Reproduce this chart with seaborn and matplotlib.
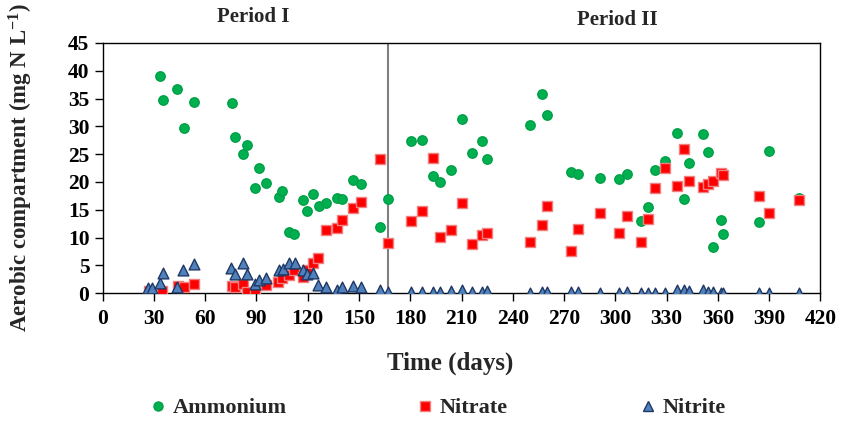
import pandas as pd
import matplotlib
matplotlib.use("Agg")
import matplotlib.pyplot as plt
import seaborn as sns
from matplotlib.lines import Line2D

# ---------------------------
# Data
# ---------------------------
amm_day = [33.3, 35.3, 43.3, 47.3, 53.4, 75.4, 77.4, 82.2, 84.2, 89.2, 91.4, 95.3,
           102.9, 105.2, 109.1, 112.1, 117.1, 119.5, 123.2, 126.3, 130.4, 137.2, 140.3,
           146.4, 151.2, 162.2, 167.2, 180.3, 187.1, 193.0, 197.2, 204.1, 210.1, 216.1,
           222.0, 225.1, 250.1, 257.3, 260.0, 274.0, 278.3, 291.0, 301.9, 306.8, 314.8,
           319.3, 323.0, 329.0, 336.0, 340.1, 343.0, 351.0, 354.0, 357.1, 362.0, 363.0,
           384.0, 390.0, 407.2]
amm_val = [39.0, 34.8, 36.7, 29.7, 34.3, 34.2, 28.0, 25.1, 26.7, 18.9, 22.5, 19.8,
           17.3, 18.3, 11.1, 10.6, 16.8, 14.7, 17.8, 15.7, 16.2, 17.1, 16.9,
           20.4, 19.7, 11.9, 17.0, 27.4, 27.6, 21.0, 20.0, 22.2, 31.4, 25.3,
           27.4, 24.2, 30.3, 35.8, 32.1, 21.8, 21.4, 20.7, 20.6, 21.4, 12.9,
           15.5, 22.1, 23.7, 28.8, 16.9, 23.4, 28.7, 25.4, 8.3, 13.1, 10.6,
           12.8, 25.5, 17.1]

nit_day = [27.0, 35.0, 44.0, 47.5, 53.4, 75.4, 77.4, 82.2, 84.2, 89.2, 95.3, 102.8,
           105.0, 109.1, 111.8, 117.2, 119.5, 123.0, 126.2, 130.4, 137.2, 140.3, 146.4,
           151.2, 162.2, 167.2, 180.3, 187.1, 193.0, 197.2, 204.1, 210.1, 216.1, 222.0,
           225.1, 250.1, 257.3, 260.0, 274.0, 278.3, 291.0, 301.9, 306.8, 315.0, 319.3,
           323.0, 329.0, 336.0, 340.1, 343.0, 351.0, 354.0, 357.1, 362.0, 363.0, 384.0,
           390.0, 407.2]
nit_val = [0.4, 0.4, 1.3, 1.1, 1.7, 1.3, 1.2, 1.6, 0.3, 0.3, 1.5, 2.0,
           2.7, 3.3, 4.1, 3.0, 4.2, 5.5, 6.4, 11.4, 11.8, 13.2, 15.3,
           16.4, 24.2, 9.0, 12.9, 14.7, 24.3, 10.2, 11.4, 16.3, 8.8, 10.4,
           10.8, 9.2, 12.2, 15.6, 7.6, 11.5, 14.5, 10.9, 13.9, 9.2, 13.4,
           19.0, 22.5, 19.2, 26.0, 20.1, 19.1, 19.7, 20.1, 21.7, 21.2, 17.5,
           14.4, 16.7]

nii_day = [26.5, 28.6, 33.5, 35.2, 43.4, 47.2, 53.4, 74.8, 77.4, 82.2, 84.2, 89.2,
           91.2, 95.3, 103.2, 105.4, 109.1, 112.3, 117.1, 119.4, 123.2, 126.2, 130.5,
           137.2, 140.3, 146.3, 151.3, 162.2, 167.2, 180.3, 187.1, 193.0, 197.2, 204.1,
           210.1, 216.1, 222.0, 225.1, 250.1, 257.3, 260.0, 274.0, 278.3, 291.0, 301.9,
           306.8, 314.8, 319.3, 323.0, 329.0, 336.0, 340.1, 343.0, 351.0, 354.0, 357.1,
           362.0, 363.0, 384.0, 390.0, 407.2]
nii_val = [0.9, 0.9, 1.9, 3.7, 1.2, 4.2, 5.3, 4.5, 3.5, 5.5, 3.5, 1.6,
           2.3, 2.8, 4.2, 4.4, 5.4, 5.4, 4.2, 3.5, 3.7, 1.5, 1.2,
           0.6, 1.1, 1.3, 1.1, 0.5, 0.2, 0.3, 0.2, 0.3, 0.2, 0.4,
           0.6, 0.2, 0.3, 0.4, 0.1, 0.2, 0.2, 0.2, 0.2, 0.1, 0.1,
           0.2, 0.1, 0.1, 0.1, 0.0, 0.6, 0.6, 0.4, 0.5, 0.3, 0.3,
           0.1, 0.1, 0.1, 0.1, 0.0]

period_split = 167
x_ticks = list(range(0, 421, 30))
y_ticks = list(range(0, 46, 5))

df = pd.concat([
    pd.DataFrame({"day": amm_day, "conc": amm_val, "species": "Ammonium"}),
    pd.DataFrame({"day": nit_day, "conc": nit_val, "species": "Nitrate"}),
    pd.DataFrame({"day": nii_day, "conc": nii_val, "species": "Nitrite"}),
])

# ---------------------------
# Style
# ---------------------------
sns.set_style("ticks")
plt.rcParams['font.family'] = ['Liberation Serif', 'DejaVu Serif']
plt.rcParams['font.weight'] = 'bold'
plt.rcParams['mathtext.fontset'] = 'custom'
plt.rcParams['mathtext.rm'] = 'Liberation Serif:bold'
plt.rcParams['mathtext.it'] = 'Liberation Serif:bold'

styles = {
    "Ammonium": dict(marker="o", color="#00B050", edgecolor="#00A046", s=46),
    "Nitrate": dict(marker="s", color="#FF0000", edgecolor="#F08080", s=42),
    "Nitrite": dict(marker="^", color="#4F81BD", edgecolor="#1F3864", s=60),
}
# legend marker x-positions in the figure (pixels)
legend_x = {"Ammonium": 158, "Nitrate": 425, "Nitrite": 648}

fig = plt.figure(figsize=(8.45, 4.25), dpi=100)
ax = fig.add_axes([0.1215, 0.31, 0.8495, 0.589])

ax.axvline(period_split, color="#7F7F7F", lw=1.5, zorder=1)

for name, st in styles.items():
    sub = df[df["species"] == name]
    sns.scatterplot(data=sub, x="day", y="conc", ax=ax, marker=st["marker"],
                    color=st["color"], edgecolor=st["edgecolor"], linewidth=1.0,
                    s=st["s"], zorder=3, legend=False)

ax.set_xlim(0, 420)
ax.set_ylim(0, 45)
ax.set_xticks(x_ticks)
ax.set_yticks(y_ticks)
ax.tick_params(axis="both", direction="out", length=6, width=1, labelsize=15.5, colors="black")
ax.tick_params(axis="x", pad=5)
for lab in ax.get_xticklabels() + ax.get_yticklabels():
    lab.set_fontweight("bold")
for sp in ax.spines.values():
    sp.set_linewidth(1.0)
    sp.set_color("black")

ax.set_xlabel("Time (days)", fontsize=18, fontweight="bold")
ax.xaxis.set_label_coords(0.484, -0.232)
ax.set_ylabel("Aerobic compartment (mg N L$^{-1}$)", fontsize=16.5, fontweight="bold")
ax.yaxis.set_label_coords(-0.094, 0.5)

fig.text(253 / 845, 1 - 17 / 425, "Period I", fontsize=15, fontweight="bold", ha="center", va="center")
fig.text(617 / 845, 1 - 20 / 425, "Period II", fontsize=15, fontweight="bold", ha="center", va="center")

# one legend per entry, to get the uneven spacing of the original
for name, st in styles.items():
    h = Line2D([], [], ls="none", marker=st["marker"], markerfacecolor=st["color"],
               markeredgecolor=st["edgecolor"], markersize=6.5, label=name)
    leg = fig.legend(handles=[h], loc="center left",
                     bbox_to_anchor=((legend_x[name] - 9) / 845, 1 - 408 / 425),
                     frameon=False, handletextpad=0.25, handlelength=0.8,
                     borderpad=0, borderaxespad=0,
                     prop={"weight": "bold", "size": 16})

fig.savefig("out.png", dpi=100)
